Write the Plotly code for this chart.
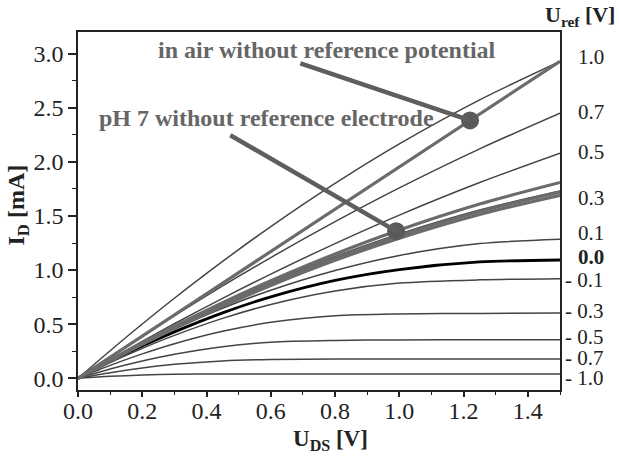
import numpy as np
import plotly.graph_objects as go

# ---------------- data ----------------
u_ds = [0.0, 0.1, 0.2, 0.3, 0.45, 0.6, 0.8, 1.0, 1.25, 1.5]

u_ref_labels = ["1.0", "0.7", "0.5", "0.3", "0.1", "0.0", "- 0.1", "- 0.3", "- 0.5", "- 0.7", "- 1.0"]

id_uref_p10 = [0.0, 0.255, 0.502, 0.740, 1.080, 1.402, 1.801, 2.166, 2.573, 2.928]
id_uref_p07 = [0.0, 0.199, 0.392, 0.580, 0.854, 1.116, 1.447, 1.759, 2.120, 2.450]
id_uref_p05 = [0.0, 0.173, 0.341, 0.504, 0.739, 0.963, 1.245, 1.508, 1.809, 2.080]
id_uref_p03 = [0.0, 0.166, 0.324, 0.476, 0.690, 0.887, 1.125, 1.334, 1.555, 1.730]
id_uref_p01 = [0.0, 0.163, 0.316, 0.457, 0.648, 0.814, 0.996, 1.135, 1.245, 1.286]
id_uref_p00 = [0.0, 0.155, 0.298, 0.429, 0.605, 0.753, 0.905, 1.005, 1.075, 1.093]
id_uref_m01 = [0.0, 0.145, 0.277, 0.397, 0.554, 0.682, 0.806, 0.880, 0.910, 0.920]
id_uref_m03 = [0.0, 0.120, 0.226, 0.320, 0.435, 0.517, 0.578, 0.595, 0.600, 0.603]
id_uref_m05 = [0.0, 0.086, 0.160, 0.222, 0.292, 0.334, 0.350, 0.355, 0.356, 0.356]
id_uref_m07 = [0.0, 0.052, 0.095, 0.129, 0.161, 0.174, 0.178, 0.178, 0.178, 0.178]
id_uref_m10 = [0.0, 0.018, 0.030, 0.037, 0.040, 0.040, 0.040, 0.040, 0.040, 0.040]

uref_series = [id_uref_p10, id_uref_p07, id_uref_p05, id_uref_p03, id_uref_p01, id_uref_p00,
               id_uref_m01, id_uref_m03, id_uref_m05, id_uref_m07, id_uref_m10]

# pH 7 without reference electrode (three sweeps)
id_ph7_a = [0.0, 0.167, 0.327, 0.480, 0.698, 0.901, 1.149, 1.371, 1.611, 1.810]
id_ph7_b = [0.0, 0.163, 0.319, 0.468, 0.680, 0.875, 1.111, 1.320, 1.542, 1.720]
id_ph7_c = [0.0, 0.160, 0.313, 0.459, 0.666, 0.858, 1.090, 1.295, 1.514, 1.690]

# in air without reference potential
u_ds_air = [0.0, 0.3, 0.6, 0.9, 1.2, 1.5]
id_air = [0.0, 0.585, 1.170, 1.758, 2.344, 2.930]

# where the two call-outs touch the curves (U_DS)
air_mark_u = 1.22
ph7_mark_u = 0.99

# ---------------- figure ----------------
FONT = "Liberation Serif"
fig = go.Figure()

thin = "#444444"
thick = "#6b6b6b"

for lab, ys in zip(u_ref_labels, uref_series):
    if lab == "0.0":
        fig.add_trace(go.Scatter(x=u_ds, y=ys, mode="lines",
                                 line=dict(color="#000000", width=2.8, shape="spline", smoothing=0.8)))
    else:
        fig.add_trace(go.Scatter(x=u_ds, y=ys, mode="lines",
                                 line=dict(color=thin, width=1.5, shape="spline", smoothing=0.8)))

for ys in (id_ph7_a, id_ph7_b, id_ph7_c):
    fig.add_trace(go.Scatter(x=u_ds, y=ys, mode="lines",
                             line=dict(color=thick, width=3.2, shape="spline", smoothing=0.8)))

fig.add_trace(go.Scatter(x=u_ds_air, y=id_air, mode="lines",
                         line=dict(color=thick, width=3.2)))

air_mark_i = float(np.interp(air_mark_u, u_ds_air, id_air))
ph7_mark_i = float(np.interp(ph7_mark_u, u_ds, id_ph7_a))

# call-out lines
callouts = [((0.692, 2.911), (air_mark_u, air_mark_i)),
            ((0.474, 2.246), (ph7_mark_u, ph7_mark_i))]
for (x0, y0), (x1, y1) in callouts:
    fig.add_shape(type="line", xref="x", yref="y", x0=x0, y0=y0, x1=x1, y1=y1,
                  line=dict(color="#5e5e5e", width=4.5), layer="above")

fig.add_trace(go.Scatter(x=[air_mark_u, ph7_mark_u], y=[air_mark_i, ph7_mark_i], mode="markers",
                         marker=dict(color="#5a5a5a", size=18, line=dict(width=0)),
                         cliponaxis=False))

annotations = []
annotations.append(dict(x=0.776, y=3.03, xref="x", yref="y", showarrow=False,
                        xanchor="center", yanchor="middle",
                        text="<b>in air without reference potential</b>",
                        font=dict(family=FONT, size=24, color="#666666")))
annotations.append(dict(x=0.586, y=2.403, xref="x", yref="y", showarrow=False,
                        xanchor="center", yanchor="middle",
                        text="<b>pH 7 without reference electrode</b>",
                        font=dict(family=FONT, size=24, color="#666666")))

# right-hand U_ref labels at curve ends
label_shift = [4, 1, 1, -7, 6, 3, -1, 2, 3, 1, -4]
for lab, ys, sh in zip(u_ref_labels, uref_series, label_shift):
    txt = "<b>%s</b>" % lab if lab == "0.0" else lab
    annotations.append(dict(x=1.0953, y=ys[-1], xref="paper", yref="y", xanchor="right",
                            yanchor="middle", yshift=sh, showarrow=False, text=txt,
                            font=dict(family=FONT, size=21, color="#222222")))

annotations.append(dict(x=1.118, y=1.046, xref="paper", yref="paper", showarrow=False,
                        xanchor="right", yanchor="middle",
                        text="<b>U<sub>ref</sub> [V]</b>",
                        font=dict(family=FONT, size=22, color="#222222")))
annotations.append(dict(x=0.523, y=-0.14, xref="paper", yref="paper", showarrow=False,
                        xanchor="center", yanchor="middle",
                        text="<b>U<sub>DS</sub> [V]</b>",
                        font=dict(family=FONT, size=23, color="#222222")))
annotations.append(dict(x=-0.1254, y=0.517, xref="paper", yref="paper", showarrow=False,
                        xanchor="center", yanchor="middle",
                        textangle=-90, text="<b>I<sub>D</sub> [mA]</b>",
                        font=dict(family=FONT, size=24, color="#222222")))

fig.update_layout(
    width=619, height=462,
    margin=dict(l=77.5, r=59, t=32, b=72, pad=0),
    plot_bgcolor="white", paper_bgcolor="white",
    showlegend=False,
    font=dict(family=FONT, size=24, color="#222222"),
    annotations=annotations,
)
fig.update_xaxes(range=[0, 1.5], tick0=0, dtick=0.2, tickformat=".1f",
                 ticks="outside", ticklen=5, tickwidth=1.5, tickcolor="#222",
                 ticklabelstandoff=-7,
                 showline=True, linecolor="#222", linewidth=1.6, mirror=True,
                 showgrid=False, zeroline=False,
                 minor=dict(ticks="outside", ticklen=3, dtick=0.1, tick0=0, tickcolor="#222", tickwidth=1.2),
                 tickfont=dict(family=FONT, size=24, color="#222"))
fig.update_yaxes(range=[-0.108, 3.2], tick0=0, dtick=0.5, tickformat=".1f",
                 ticks="outside", ticklen=8, tickwidth=1.5, tickcolor="#222",
                 showline=True, linecolor="#222", linewidth=1.6, mirror=True,
                 showgrid=False, zeroline=False,
                 minor=dict(ticks="outside", ticklen=4, dtick=0.25, tick0=0, tickcolor="#222", tickwidth=1.2),
                 tickfont=dict(family=FONT, size=24, color="#222"))

# remove the browser's default 8px body margin so the figure fills the window
fig.write_html("out.html", config={"displayModeBar": False},
               post_script="document.body.style.margin='0px';")
